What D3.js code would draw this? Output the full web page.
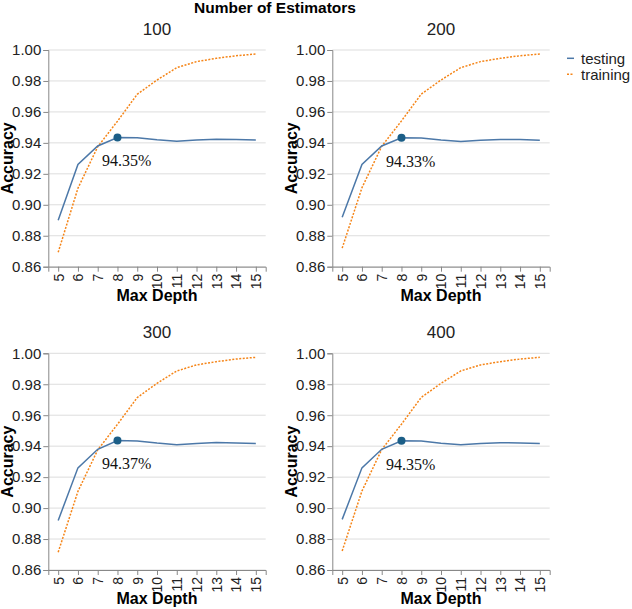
<!DOCTYPE html>
<html><head><meta charset="utf-8">
<script src="https://cdn.jsdelivr.net/npm/d3@7"></script>
<style>body{margin:0;background:#fff}</style>
</head><body>
<svg id="c" width="632" height="609"></svg>
<script>
const depths = [5,6,7,8,9,10,11,12,13,14,15];
const estimators = ["100","200","300","400"];
const testing100 = [0.890,0.926,0.938,0.9435,0.9433,0.9420,0.9410,0.9418,0.9424,0.9422,0.9418];
const training100 = [0.8693,0.9107,0.9375,0.9540,0.9714,0.9806,0.9886,0.9925,0.9946,0.9963,0.9974];
const testing200 = [0.892,0.926,0.938,0.9433,0.9432,0.9418,0.9409,0.9417,0.9422,0.9421,0.9417];
const training200 = [0.872,0.911,0.9378,0.9542,0.9715,0.9806,0.9886,0.9925,0.9946,0.9963,0.9974];
const testing300 = [0.892,0.926,0.938,0.9437,0.9434,0.9420,0.9410,0.9418,0.9423,0.9421,0.9417];
const training300 = [0.8715,0.9108,0.9376,0.9541,0.9714,0.9806,0.9886,0.9925,0.9946,0.9963,0.9974];
const testing400 = [0.8927,0.926,0.938,0.9435,0.9433,0.9419,0.9409,0.9417,0.9422,0.9421,0.9417];
const training400 = [0.8723,0.911,0.9378,0.9542,0.9715,0.9806,0.9886,0.9925,0.9946,0.9963,0.9974];
const bestDepth = [8,8,8,8];
const bestLabels = ["94.35%","94.33%","94.37%","94.35%"];
const yTicks = [0.86,0.88,0.90,0.92,0.94,0.96,0.98,1.00];
const seriesNames = ["testing","training"];

const testingAll = [testing100,testing200,testing300,testing400];
const trainingAll = [training100,training200,training300,training400];

const colors = {testing:"#4c78a8", training:"#f58518"};
const W = 217.4, H = 216.7;
const origins = [[48.3,50],[332.3,50],[48.3,353.3],[332.3,353.3]];
const svg = d3.select("#c");
const sans = "'Liberation Sans', Arial, sans-serif";
const serif = "'Liberation Serif', 'Times New Roman', serif";

const x = d3.scalePoint().domain(depths).range([0,W]).padding(0.5);
const y = d3.scaleLinear().domain([0.86,1.0]).range([H,0]);

svg.append("text").attr("x",275).attr("y",13).attr("text-anchor","middle")
  .attr("font-family",sans).attr("font-weight","bold").attr("font-size",15.5).text("Number of Estimators");

estimators.forEach((est,i)=>{
  const [ox,oy] = origins[i];
  const g = svg.append("g").attr("transform",`translate(${ox},${oy})`);
  g.selectAll("line.grid").data(yTicks).join("line").attr("class","grid")
    .attr("x1",0).attr("x2",W).attr("y1",d=>y(d)).attr("y2",d=>y(d))
    .attr("stroke","#ddd").attr("stroke-width",1);
  const ya = g.append("g").call(d3.axisLeft(y).tickValues(yTicks).tickFormat(d3.format(".2f")).tickSize(5).tickPadding(2));
  ya.select(".domain").attr("stroke","#888");
  ya.selectAll(".tick line").attr("stroke","#888");
  ya.selectAll(".tick text").attr("font-family",sans).attr("font-size",15).attr("fill","#222");
  const xa = g.append("g").attr("transform",`translate(0,${H})`)
    .call(d3.axisBottom(x).tickSize(5).tickPadding(2));
  xa.select(".domain").attr("stroke","#888");
  xa.selectAll(".tick line").attr("stroke","#888");
  xa.selectAll(".tick text").attr("font-family",sans).attr("font-size",14).attr("fill","#222")
    .attr("transform","rotate(-90)").attr("text-anchor","end").attr("dy","0.35em").attr("y",0).attr("x",-7);
  g.append("text").attr("x",W/2).attr("y",-15).attr("text-anchor","middle")
    .attr("font-family",sans).attr("font-size",17).attr("fill","#222").text(est);
  g.append("text").attr("x",W/2).attr("y",H+34.5).attr("text-anchor","middle")
    .attr("font-family",sans).attr("font-size",16).attr("font-weight","bold").text("Max Depth");
  g.append("text").attr("transform",`translate(-35.5,${H/2}) rotate(-90)`).attr("text-anchor","middle")
    .attr("font-family",sans).attr("font-size",16).attr("font-weight","bold").text("Accuracy");
  const line = d3.line().x((d,j)=>x(depths[j])).y(d=>y(d));
  g.append("path").attr("d",line(trainingAll[i])).attr("fill","none")
    .attr("stroke",colors.training).attr("stroke-width",1.5).attr("stroke-dasharray","2,1.5");
  g.append("path").attr("d",line(testingAll[i])).attr("fill","none")
    .attr("stroke",colors.testing).attr("stroke-width",1.5);
  const bi = depths.indexOf(bestDepth[i]);
  const bx = x(bestDepth[i]), by = y(testingAll[i][bi]);
  g.append("circle").attr("cx",bx).attr("cy",by).attr("r",4).attr("fill","#1b5e87");
  g.append("text").attr("x",bx-15.5).attr("y",by+29)
    .attr("font-family",serif).attr("font-size",16).attr("fill","#111")
    .text(bestLabels[i]);
});

const lg = svg.append("g");
seriesNames.forEach((s,k)=>{
  const yy = 58.3 + k*16;
  lg.append("line").attr("x1",567).attr("x2",574).attr("y1",yy).attr("y2",yy)
    .attr("stroke",colors[s]).attr("stroke-width",1.5)
    .attr("stroke-dasharray", s==="training" ? "2,1.5" : null);
  lg.append("text").attr("x",581).attr("y",yy).attr("dy","0.35em")
    .attr("font-family",sans).attr("font-size",15).attr("fill","#222").text(s);
});
</script>
</body></html>
